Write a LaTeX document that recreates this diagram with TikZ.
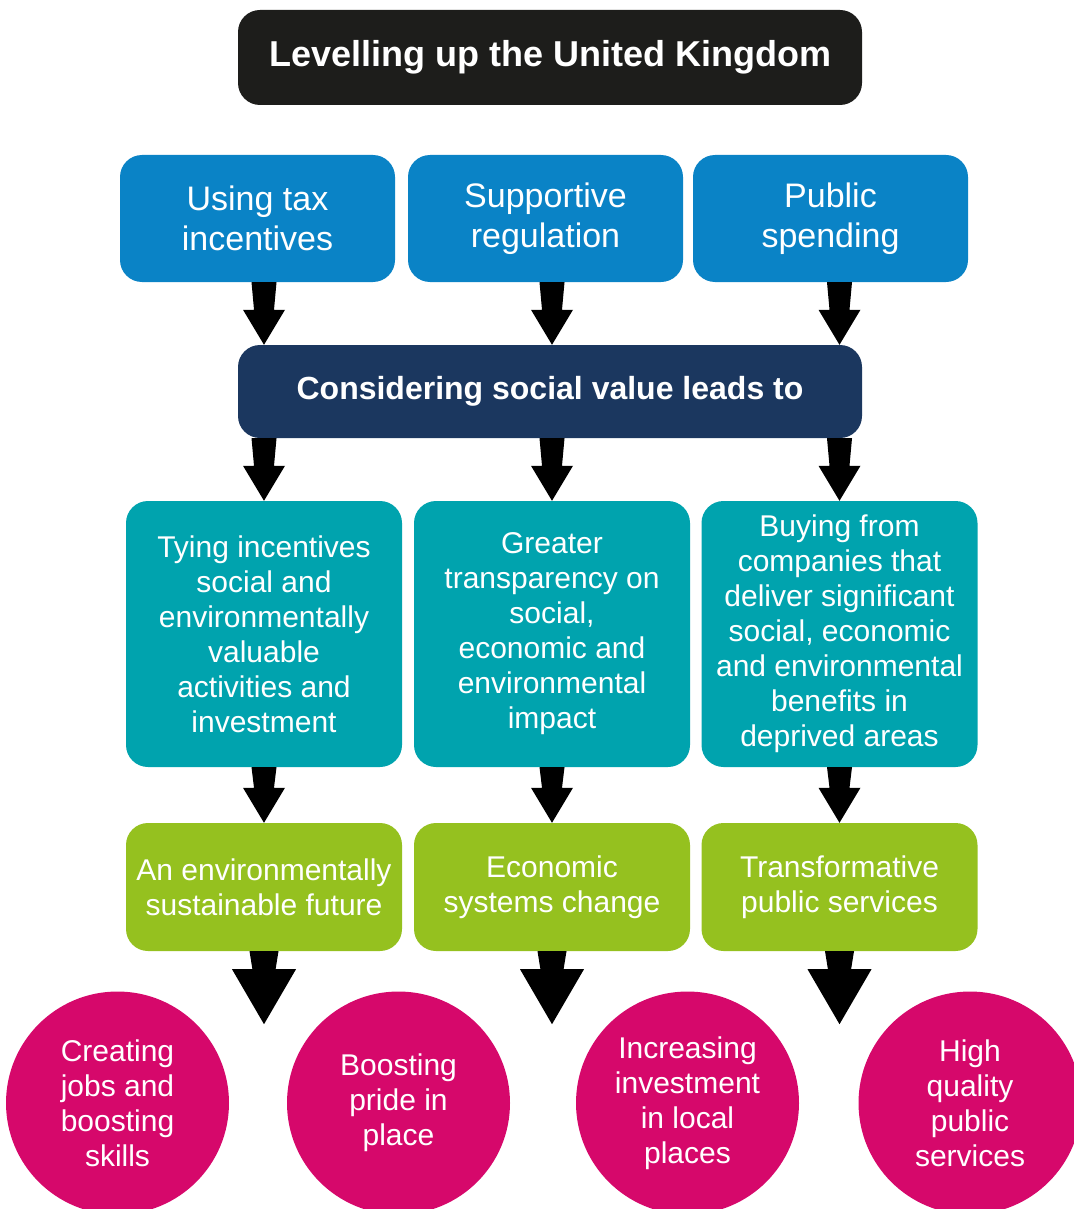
\documentclass[tikz,border=0pt]{standalone}
\usepackage{fontspec}
\setmainfont{Liberation Sans}
\usetikzlibrary{calc}

\definecolor{titleblack}{HTML}{1D1D1B}
\definecolor{leverblue}{HTML}{0A83C6}
\definecolor{valuenavy}{HTML}{1B375F}
\definecolor{outcometeal}{HTML}{00A3AE}
\definecolor{goalgreen}{HTML}{95C11F}
\definecolor{benefitpink}{HTML}{D6086B}

% block arrow: start, tip, shaft half width, head half width, head length
\newcommand{\blockarr}[5]{%
  \fill[black] ($(#1)+(-#3,0)$) -- ($(#2)+(-0.8*#3,-#5)$) -- ($(#2)+(-#4,-#5)$)
    -- (#2) -- ($(#2)+(#4,-#5)$) -- ($(#2)+(0.8*#3,-#5)$) -- ($(#1)+(#3,0)$) -- cycle;}

\begin{document}
\begin{tikzpicture}[x=1pt, y=-1pt,
    box/.style={rounded corners=22pt, inner sep=0pt, align=center, text=white},
    bigtext/.style={font=\fontsize{34}{40}\selectfont},
    smalltext/.style={font=\fontsize{30}{35}\selectfont},
    boldtext/.style={font=\bfseries\fontsize{32}{38}\selectfont},
    leverbox/.style={box, fill=leverblue, bigtext, minimum width=275pt, minimum height=127pt},
    outcomebox/.style={box, fill=outcometeal, smalltext, minimum width=276pt, minimum height=266pt},
    goalbox/.style={box, fill=goalgreen, smalltext, minimum width=276pt, minimum height=128pt},
    benefit/.style={circle, fill=benefitpink, text=white, inner sep=0pt, align=center,
      smalltext, minimum size=223pt}]
    \useasboundingbox (0,0) rectangle (1073,1209);

    % Title
    \node[box, fill=titleblack, font=\bfseries\fontsize{36}{42}\selectfont,
      minimum width=624pt, minimum height=95pt] (title) at (550,57.5)
      {Levelling up the United Kingdom};

    % Levers
    \node[leverbox] (tax) at (257.5,218.5) {Using tax\\incentives};
    \node[leverbox] (regulation) at (545.5,218.5) {Supportive\\regulation};
    \node[leverbox] (spending) at (830.5,218.5) {Public\\spending};

    % Social value
    \node[box, fill=valuenavy, boldtext, minimum width=624pt, minimum height=93pt]
      (value) at (550,391.5) {Considering social value leads to};

    % Outcomes
    \node[outcomebox] (tying) at (264,634)
      {Tying incentives\\social and\\environmentally\\valuable\\activities and\\investment};
    \node[outcomebox] (transparency) at (552,634)
      {Greater\\transparency on\\social,\\economic and\\environmental\\impact};
    \node[outcomebox] (buying) at (839.5,634)
      {Buying from\\companies that\\deliver significant\\social, economic\\and environmental\\benefits in\\deprived areas};

    % Goals
    \node[goalbox] (sustainable) at (264,887) {An environmentally\\sustainable future};
    \node[goalbox] (systems) at (552,887) {Economic\\systems change};
    \node[goalbox] (services) at (839.5,887) {Transformative\\public services};

    % Benefits
    \node[benefit] (jobs) at (117.5,1103) {Creating\\jobs and\\boosting\\skills};
    \node[benefit] (pride) at (398.5,1103) {Boosting\\pride in\\place};
    \node[benefit] (investment) at (687.5,1103) {Increasing\\investment\\in local\\places};
    \node[benefit] (quality) at (970,1103) {High\\quality\\public\\services};

    % Arrows between rows
    \blockarr{tying.north |- tax.south}{tying.north |- value.north}{12.5}{21}{35}
    \blockarr{transparency.north |- regulation.south}{transparency.north |- value.north}{12.5}{21}{35}
    \blockarr{buying.north |- spending.south}{buying.north |- value.north}{12.5}{21}{35}
    \blockarr{tying.north |- value.south}{tying.north}{12.5}{21}{35}
    \blockarr{transparency.north |- value.south}{transparency.north}{12.5}{21}{35}
    \blockarr{buying.north |- value.south}{buying.north}{12.5}{21}{35}
    \blockarr{tying.south}{sustainable.north}{12.5}{21}{35}
    \blockarr{transparency.south}{systems.north}{12.5}{21}{35}
    \blockarr{buying.south}{services.north}{12.5}{21}{35}

    % Arrows to benefits
    \coordinate (tipA) at ($(sustainable.south)+(0,73)$);
    \coordinate (tipB) at ($(systems.south)+(0,73)$);
    \coordinate (tipC) at ($(services.south)+(0,73)$);
    \blockarr{sustainable.south}{tipA}{14.5}{32}{55}
    \blockarr{systems.south}{tipB}{14.5}{32}{55}
    \blockarr{services.south}{tipC}{14.5}{32}{55}
\end{tikzpicture}
\end{document}
